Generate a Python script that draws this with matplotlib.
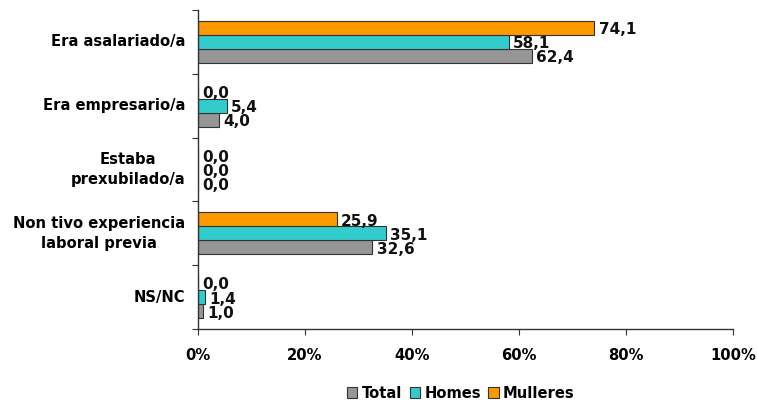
import numpy as np
import matplotlib
matplotlib.use("Agg")
import matplotlib.pyplot as plt

# categories, top to bottom
categories = ["Era asalariado/a", "Era empresario/a", "Estaba\nprexubilado/a",
              "Non tivo experiencia\nlaboral previa", "NS/NC"]
total = [62.4, 4.0, 0.0, 32.6, 1.0]
homes = [58.1, 5.4, 0.0, 35.1, 1.4]
mulleres = [74.1, 0.0, 0.0, 25.9, 0.0]

series = [("Total", total, "#969696"),
          ("Homes", homes, "#33CCCC"),
          ("Mulleres", mulleres, "#FF9900")]

plt.rcParams['font.family'] = ['DejaVu Sans']
plt.rcParams['font.weight'] = 'bold'

fig = plt.figure(figsize=(7.57, 4.03), dpi=100)
ax = fig.add_axes([198 / 757, 1 - 329 / 403, 535 / 757, 319 / 403])

n = len(categories)
pos = np.arange(n)[::-1].astype(float)  # first category at top
h = 0.22
offsets = [-h, 0, h]  # Total bottom, Homes middle, Mulleres top
fs = 10.6

for (name, vals, col), off in zip(series, offsets):
    y = pos + off
    ax.barh(y, vals, height=h, color=col, edgecolor="#333333", linewidth=0.8,
            label=name)
    for yy, v in zip(y, vals):
        ax.text(v + 0.8, yy - 0.03, f"{v:.1f}".replace(".", ","),
                va="center", ha="left", fontsize=fs + 0.4, fontweight="bold",
                color="#111111")

ax.set_xlim(0, 100)
ax.set_ylim(-0.5, n - 0.5)
ax.set_xticks(np.arange(0, 101, 20))
ax.set_xticklabels([f"{t}%" for t in range(0, 101, 20)], fontsize=fs,
                   fontweight="bold")
ax.tick_params(axis="x", length=4, pad=10, color="#333333")

# category labels centred in each group, ticks on group boundaries
ax.set_yticks(np.arange(n + 1) - 0.5)
ax.set_yticklabels([])
ax.tick_params(axis="y", length=4, color="#333333")
for p, c in zip(pos, categories):
    ax.text(-2.4, p, c, ha="right", va="center", multialignment="center",
            fontsize=fs, fontweight="bold", linespacing=1.45)

for s in ["top", "right"]:
    ax.spines[s].set_visible(False)
for s in ["left", "bottom"]:
    ax.spines[s].set_color("#333333")
    ax.spines[s].set_linewidth(1.0)

handles, labels = ax.get_legend_handles_labels()
fig.legend(handles, labels, loc="center", bbox_to_anchor=(461 / 757, 1 - 393 / 403),
           ncol=3, frameon=False, handlelength=0.7,
           handleheight=0.7, handletextpad=0.3, columnspacing=0.5,
           prop={"weight": "bold", "size": fs})

fig.savefig("out.png", dpi=100)
